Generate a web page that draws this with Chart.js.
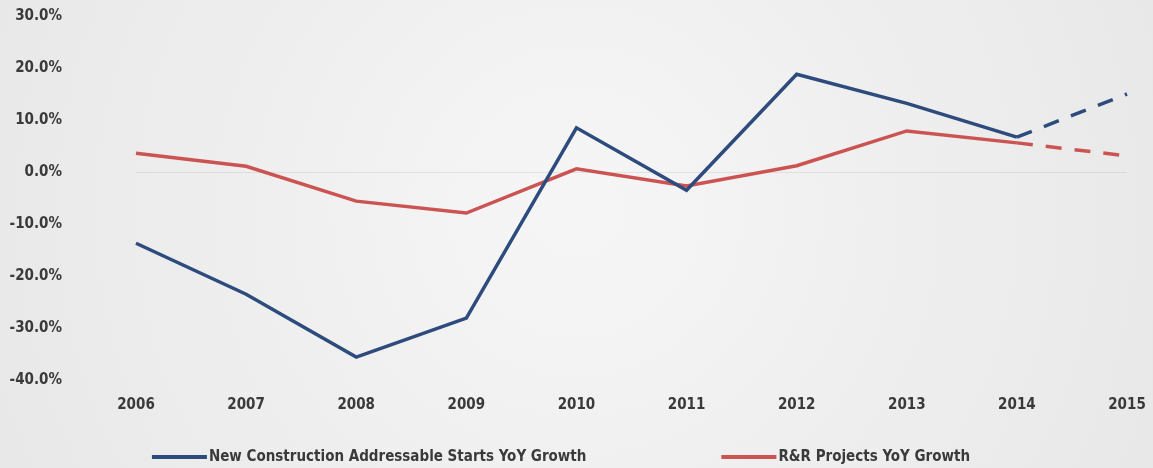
<!DOCTYPE html>
<html>
<head>
<meta charset="utf-8">
<title>YoY Growth</title>
<script src="https://cdn.jsdelivr.net/npm/chart.js@4"></script>
<style>
    html, body { margin: 0; padding: 0; background: #ececec; }
    canvas { display: block; }
</style>
</head>
<body>
<canvas id="growthChart" width="1153" height="468"></canvas>
<script>
// Годы по оси X
const years = ['2006', '2007', '2008', '2009', '2010', '2011', '2012', '2013', '2014', '2015'];

// Рост, % год к году
const newConstruction = [-13.7, -23.5, -35.6, -28.1, 8.5, -3.5, 18.8, 13.2, 6.7, 15.0];
const rrProjects = [3.6, 1.1, -5.6, -7.9, 0.6, -2.7, 1.2, 7.9, 5.6, 3.1];

// Подписи серий
const seriesNames = ['New Construction Addressable Starts YoY Growth', 'R&R Projects YoY Growth'];

// Шкала Y
const yMin = -40;
const yMax = 30;
const yStep = 10;

const forecastFrom = 8; // последний отрезок (2014-2015) — прогноз, пунктиром
const fontFamily = '"Liberation Sans Narrow", "DejaVu Sans Condensed", Arial, sans-serif';
const textColor = '#3a3a3a';

// Серый фон с осветлением к центру
const backgroundPlugin = {
    id: 'softBackground',
    beforeDraw(chart) {
        const { ctx, width, height } = chart;
        const g = ctx.createRadialGradient(width * 0.5, height * 0.45, 40, width * 0.5, height * 0.45, width * 0.62);
        g.addColorStop(0, '#f5f5f5');
        g.addColorStop(1, '#e6e6e6');
        ctx.save();
        ctx.fillStyle = g;
        ctx.fillRect(0, 0, width, height);
        ctx.restore();
    }
};

// Легенда внизу: линия-образец и подпись, элементы разнесены
const lineLegendPlugin = {
    id: 'lineLegend',
    afterDraw(chart) {
        const { ctx } = chart;
        const swatch = 57;
        const gap = 135;
        const y = 457;
        ctx.save();
        ctx.font = 'bold 15px ' + fontFamily;
        ctx.textBaseline = 'middle';
        ctx.textAlign = 'left';
        const items = chart.data.datasets.map(ds => ({
            text: ds.label,
            color: ds.borderColor,
            width: swatch + ctx.measureText(ds.label).width
        }));
        const total = items.reduce((s, it) => s + it.width, 0) + gap * (items.length - 1);
        let x = 561 - total / 2;
        items.forEach(it => {
            ctx.strokeStyle = it.color;
            ctx.lineWidth = 4;
            ctx.beginPath();
            ctx.moveTo(x, y);
            ctx.lineTo(x + swatch - 2, y);
            ctx.stroke();
            ctx.fillStyle = textColor;
            ctx.fillText(it.text, x + swatch, y);
            x += it.width + gap;
        });
        ctx.restore();
    }
};

const dashForecast = ctx => ctx.p0DataIndex >= forecastFrom ? [16, 13] : undefined;

const chart = new Chart(document.getElementById('growthChart').getContext('2d'), {
    type: 'line',
    data: {
        labels: years,
        datasets: [{
            label: seriesNames[0],
            data: newConstruction,
            borderColor: '#2d4b7c',
            borderWidth: 3.5,
            pointRadius: 0,
            tension: 0,
            segment: { borderDash: dashForecast }
        }, {
            label: seriesNames[1],
            data: rrProjects,
            borderColor: '#cb5452',
            borderWidth: 3.5,
            pointRadius: 0,
            tension: 0,
            segment: { borderDash: dashForecast }
        }]
    },
    options: {
        responsive: false,
        animation: false,
        layout: { padding: { top: 16, right: 26, bottom: 48, left: 0 } },
        plugins: {
            legend: { display: false },
            tooltip: { enabled: false }
        },
        scales: {
            x: {
                offset: false,
                grid: { display: false },
                border: { display: false },
                ticks: {
                    padding: 8,
                    maxRotation: 0,
                    color: textColor,
                    font: { family: fontFamily, size: 15, weight: 'bold' }
                },
                afterFit: scale => {
                    scale.height = 40;
                    scale.paddingLeft = 20;
                    scale.paddingRight = 20;
                }
            },
            y: {
                min: yMin,
                max: yMax,
                border: { display: false },
                grid: {
                    drawTicks: false,
                    color: c => c.tick && c.tick.value === 0 ? 'rgba(0, 0, 0, 0.07)' : 'rgba(0, 0, 0, 0)'
                },
                ticks: {
                    stepSize: yStep,
                    padding: 74,
                    color: textColor,
                    font: { family: fontFamily, size: 15, weight: 'bold' },
                    callback: v => v.toFixed(1) + '%'
                },
                afterFit: scale => {
                    // отступ подписей не должен сдвигать область графика по вертикали
                    scale.width = 136;
                    scale.paddingTop = 10;
                    scale.paddingBottom = 10;
                }
            }
        }
    },
    plugins: [backgroundPlugin, lineLegendPlugin]
});
</script>
</body>
</html>
